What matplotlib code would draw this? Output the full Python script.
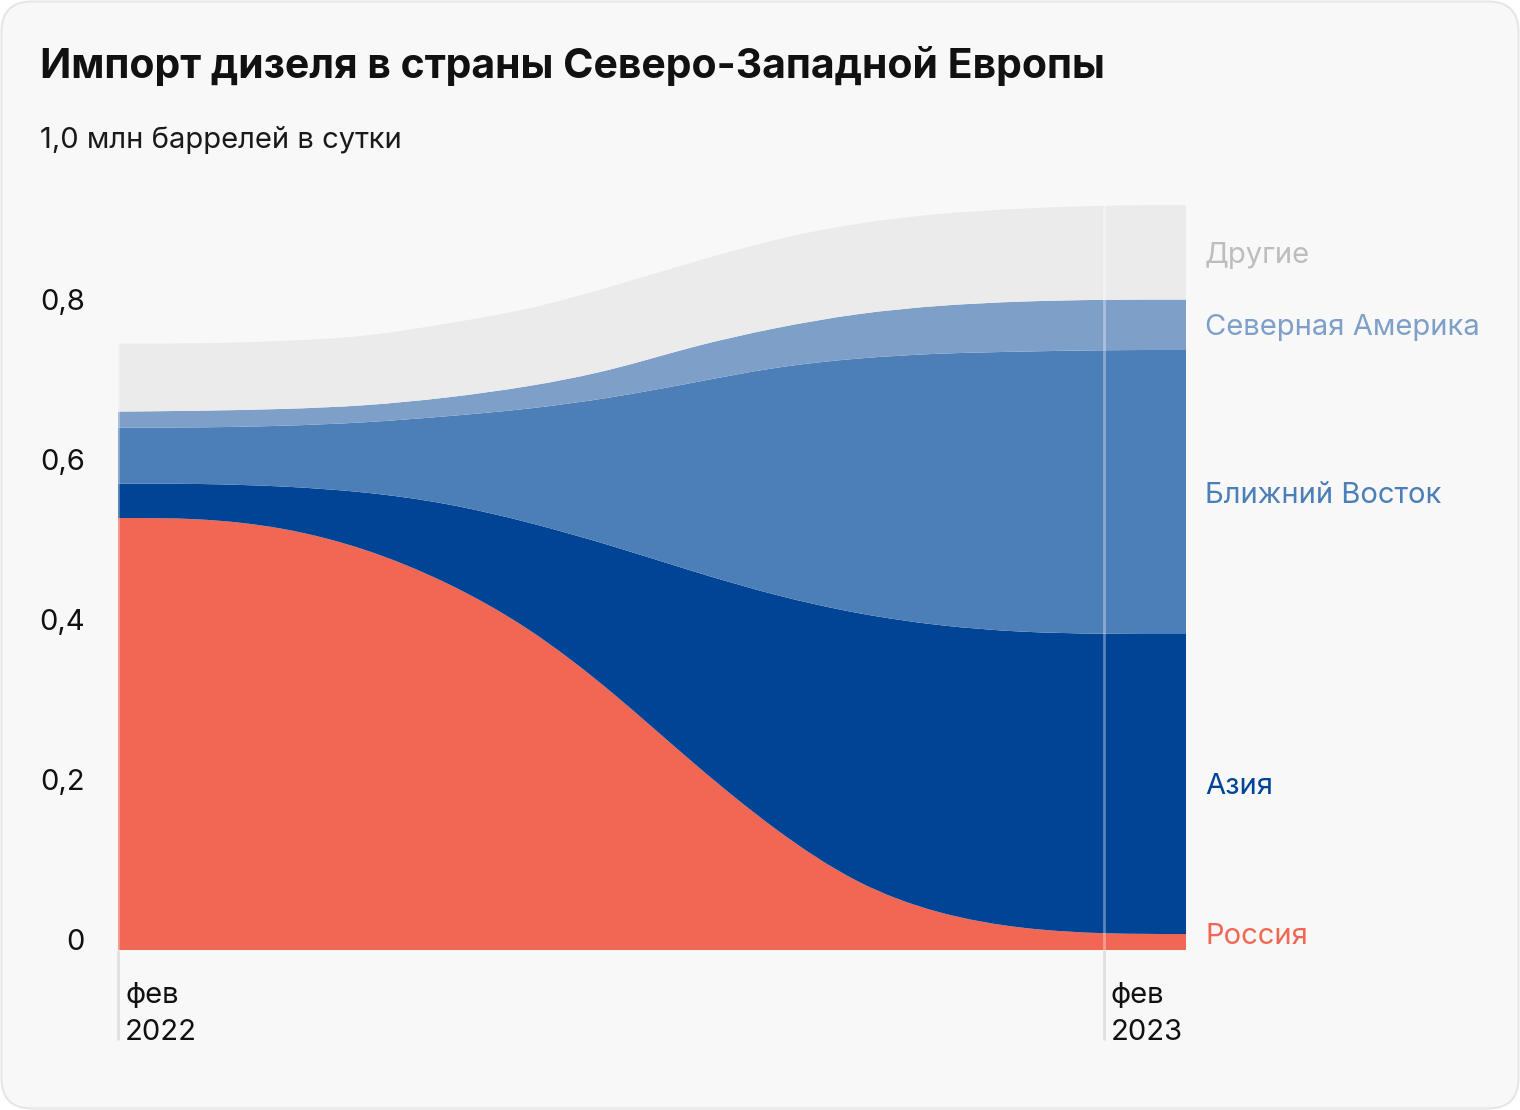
import numpy as np
import matplotlib
matplotlib.use("Agg")
import matplotlib.pyplot as plt
from matplotlib.path import Path
from matplotlib.patches import PathPatch, FancyBboxPatch
from matplotlib.transforms import ScaledTranslation

# ---------------- data (million barrels per day) ----------------
months = ["фев 2022", "мар 2022", "апр 2022", "май 2022", "июн 2022", "июл 2022",
          "авг 2022", "сен 2022", "окт 2022", "ноя 2022", "дек 2022", "янв 2023",
          "фев 2023", "мар 2023"]
russia = [0.540, 0.540, 0.529, 0.503, 0.461, 0.404, 0.325, 0.233, 0.149, 0.081,
          0.044, 0.026, 0.020, 0.020]
asia = [0.043, 0.043, 0.051, 0.070, 0.098, 0.131, 0.181, 0.240, 0.294, 0.339,
        0.361, 0.371, 0.375, 0.375]
middle_east = [0.070, 0.070, 0.075, 0.086, 0.108, 0.141, 0.184, 0.236, 0.286, 0.320,
               0.341, 0.351, 0.355, 0.355]
north_america = [0.020, 0.021, 0.021, 0.021, 0.023, 0.028, 0.034, 0.046, 0.049, 0.056,
                 0.060, 0.063, 0.063, 0.063]
others = [0.085, 0.084, 0.085, 0.086, 0.093, 0.096, 0.105, 0.105, 0.111, 0.113,
          0.115, 0.116, 0.118, 0.118]

series_names = ["Россия", "Азия", "Ближний Восток", "Северная Америка", "Другие"]
x_tick_months = ["фев 2022", "фев 2023"]
x_tick_labels = ["фев\n2022", "фев\n2023"]
y_ticks = [0, 0.2, 0.4, 0.6, 0.8]
y_tick_labels = ["0", "0,2", "0,4", "0,6", "0,8"]

title = "Импорт дизеля в страны Северо-Западной Европы"
subtitle = "1,0 млн баррелей в сутки"

# ---------------- style ----------------
fill_colors = ["#f26754", "#004496", "#4c7eb7", "#7e9fc8", "#ebebeb"]
label_colors = ["#f26754", "#004496", "#4c7eb7", "#7e9fc8", "#bdbdbd"]
FONT = "Inter"
W, H, DPI = 1520, 1110, 100
FS = 21

plt.rcParams["font.family"] = [FONT, "DejaVu Sans"]

fig = plt.figure(figsize=(W / DPI, H / DPI), dpi=DPI, facecolor="white")

# card background
card = FancyBboxPatch((1.5 / W, 1.5 / H), (W - 3) / W, (H - 3) / H,
                      boxstyle="round,pad=0,rounding_size=0.02",
                      transform=fig.transFigure, facecolor="#f8f8f8",
                      edgecolor="#e6e6e6", linewidth=1.5, mutation_aspect=W / H,
                      zorder=-10)
fig.patches.append(card)

fig.text(40 / W, 1 - 78 / H, title, fontsize=29.5, fontweight="bold",
         color="#111111", ha="left", va="baseline")
fig.text(40 / W, 1 - 148 / H, subtitle, fontsize=FS, color="#1a1a1a",
         ha="left", va="baseline")

# axes: x from 118 px to 1186 px, y=0 at 950 px, 1.0 at 150 px
ax = fig.add_axes([118 / W, 1 - 950 / H, (1186 - 118) / W, 800 / H], zorder=1)
ax.patch.set_visible(False)
x = np.arange(len(months), dtype=float)
ax.set_xlim(x[0], x[-1])
ax.set_ylim(0, 1.0)
for s in ax.spines.values():
    s.set_visible(False)


def basis_segments(xs, ys):
    """Cubic B-spline (d3 curveBasis style) as Bezier segments."""
    P = np.column_stack([xs, ys])
    C = np.vstack([P[:1], P[:1], P, P[-1:], P[-1:]])
    segs = []
    for j in range(1, len(C) - 2):
        a, b, c, d = C[j - 1], C[j], C[j + 1], C[j + 2]
        segs.append(((a + 4 * b + c) / 6, (2 * b + c) / 3, (b + 2 * c) / 3,
                     (b + 4 * c + d) / 6))
    return segs


def band_path(xs, lower, upper):
    lo = basis_segments(xs, lower)
    up = basis_segments(xs, upper)
    verts = [tuple(lo[0][0])]
    codes = [Path.MOVETO]
    for s0, c1, c2, e in lo:
        verts += [tuple(c1), tuple(c2), tuple(e)]
        codes += [Path.CURVE4] * 3
    verts.append(tuple(up[-1][3]))
    codes.append(Path.LINETO)
    for s0, c1, c2, e in reversed(up):
        verts += [tuple(c2), tuple(c1), tuple(s0)]
        codes += [Path.CURVE4] * 3
    verts.append(tuple(lo[0][0]))
    codes.append(Path.CLOSEPOLY)
    return Path(verts, codes)


series = [np.array(russia), np.array(asia), np.array(middle_east),
          np.array(north_america), np.array(others)]
lower = np.zeros(len(x))
bounds = []
for vals, col in zip(series, fill_colors):
    upper = lower + vals
    ax.add_patch(PathPatch(band_path(x, lower, upper), facecolor=col,
                           edgecolor="none", linewidth=0, zorder=2))
    bounds.append((lower.copy(), upper.copy()))
    lower = upper

# vertical marker lines
for m in x_tick_months:
    xi = months.index(m)
    ax.plot([xi, xi], [-0.1125, 0], color="#e0e0e0", lw=2, clip_on=False, zorder=1,
            solid_capstyle="butt")
    ax.plot([xi, xi], [0, lower[xi]], color="white", alpha=0.35, lw=2, zorder=3,
            solid_capstyle="butt")

# x labels (two lines each)
for m, lab in zip(x_tick_months, x_tick_labels):
    for k, line in enumerate(lab.split("\n")):
        off = ScaledTranslation(7 / DPI, -37 * k / DPI, fig.dpi_scale_trans)
        ax.text(months.index(m), -0.066, line, transform=ax.transData + off,
                ha="left", va="baseline", fontsize=FS, color="#111111",
                clip_on=False)

# y tick labels
ax.set_xticks([])
ax.set_yticks(y_ticks)
ax.set_yticklabels(y_tick_labels, fontsize=FS, color="#111111")
ax.tick_params(axis="y", length=0, pad=24)
for t in ax.get_yticklabels():
    t.set_verticalalignment("baseline")

# right-hand series labels
label_offset = ScaledTranslation(19 / DPI, -3 / DPI, fig.dpi_scale_trans)
for (lo, up), name, col in zip(bounds, series_names, label_colors):
    ymid = max((lo[-1] + up[-1]) / 2, 0.021)
    ax.text(x[-1], ymid, name, transform=ax.transData + label_offset,
            ha="left", va="center", fontsize=FS, color=col, clip_on=False)

fig.savefig("out.png", dpi=DPI, facecolor="white")
